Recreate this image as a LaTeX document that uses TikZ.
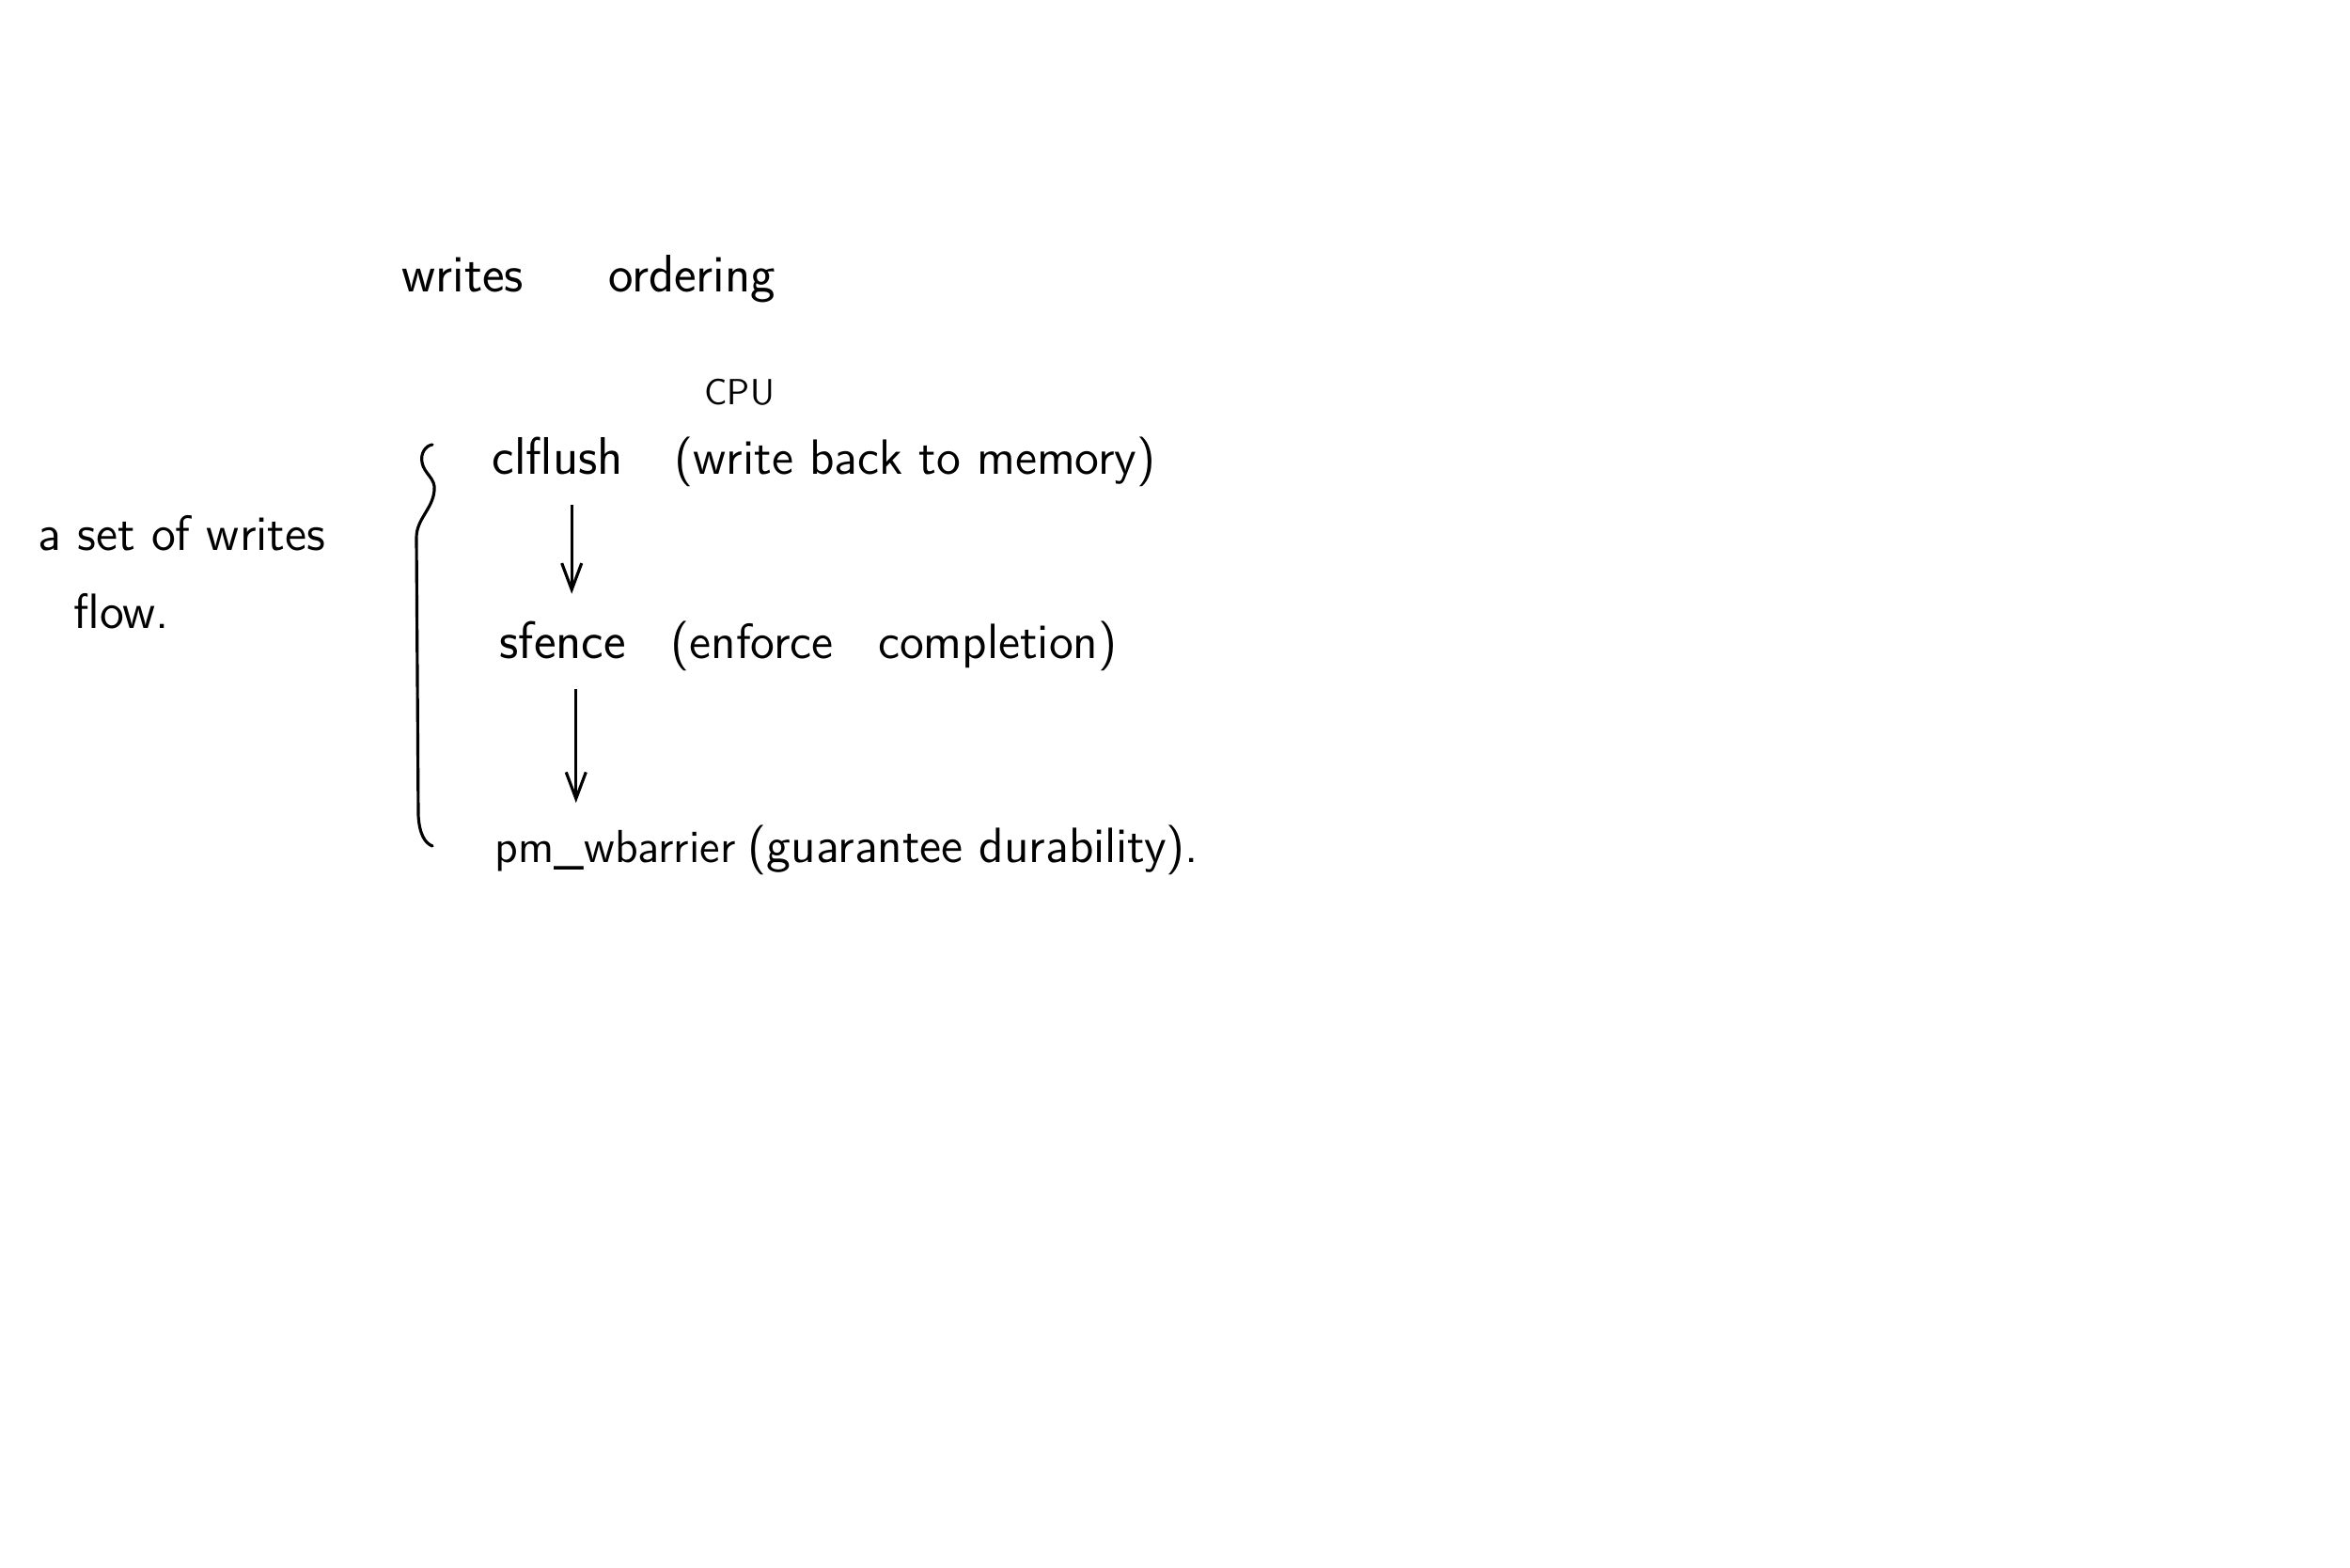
\documentclass[tikz,border=0pt]{standalone}
\usetikzlibrary{arrows.meta,calc}
\begin{document}
\begin{tikzpicture}
			\useasboundingbox (0,0) rectangle (25,16.67);
			\begin{scope}[every node/.style={inner sep=0pt,anchor=base west,font=\sffamily\fontsize{15}{18}\selectfont}]
				\node (title) at (4.27,13.57) {\fontsize{16}{19}\selectfont writes\hspace{1.6em}ordering};
				\node (cpu) at (7.49,12.37) {\fontsize{11}{13}\selectfont CPU};
				\node (clflush) at (5.23,11.63) {\fontsize{16}{19}\selectfont clflush};
				\node (clflushnote) at (7.17,11.63) {(write back to memory)};
				\node (sfence) at (5.31,9.67) {\fontsize{16}{19}\selectfont sfence};
				\node (sfencenote) at (7.13,9.67) {(enforce\hspace{0.9em}completion)};
				\node (pmwb) at (5.26,7.50) {\fontsize{14}{17}\selectfont pm\_wbarrier};
				\node (pmwbnote) at (7.95,7.50) {(guarantee durability).};
				\node (setof) at (0.40,10.82) {a set of writes};
				\node (flow) at (0.78,9.99) {flow.};
			\end{scope}
			\begin{scope}[line width=0.9pt, >={Straight Barb[length=8pt,width=6pt]}, shorten <=9pt, shorten >=8pt]
				\path [->] ($(clflush.south)+(0.15,0)$) edge ($(clflush.south |- sfence.north)+(0.15,0)$);
				\path [->] ($(sfence.south)+(0.14,0)$) edge ($(sfence.south |- pmwb.north)+(0.14,0)$);
			\end{scope}
			% brace round the three steps
			\draw [line width=0.9pt, line cap=round] (4.60,11.94) .. controls (4.53,11.93) and (4.47,11.85) .. (4.49,11.75)
				.. controls (4.51,11.63) and (4.64,11.58) .. (4.62,11.45)
				.. controls (4.60,11.25) and (4.43,11.15) .. (4.43,10.95)
				-- (4.45,8.00)
				.. controls (4.46,7.80) and (4.52,7.70) .. (4.60,7.67);
		\end{tikzpicture}
\end{document}
